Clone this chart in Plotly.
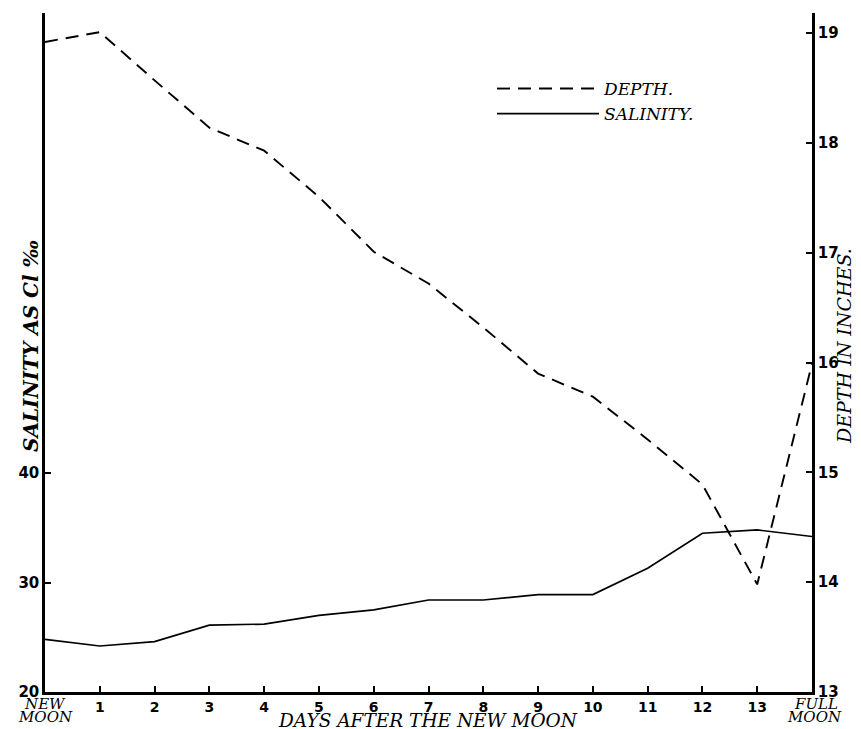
import plotly.graph_objects as go

days = list(range(15))
tick_labels = ["", "1", "2", "3", "4", "5", "6", "7", "8", "9", "10", "11", "12", "13", ""]
depth_in = [18.92, 19.01, 18.57, 18.14, 17.93, 17.51, 17.01, 16.72, 16.32, 15.90, 15.69, 15.30, 14.89, 13.98, 15.99]
salinity = [24.8, 24.2, 24.6, 26.1, 26.2, 27.0, 27.5, 28.4, 28.4, 28.9, 28.9, 31.3, 34.5, 34.8, 34.2]
sal_ticks = [20, 30, 40]
depth_ticks = [13, 14, 15, 16, 17, 18, 19]

# page body has an 8px margin, so the figure is drawn 8px smaller and offset
OFF = 8
W, H = 861 - OFF, 729 - OFF
ML, MR, MT, MB = 45 - OFF, 49, 13 - OFF, 37
plot_h = H - MT - MB
plot_w = W - ML - MR

serif = "DejaVu Serif"
sans = "DejaVu Sans"

fig = go.Figure()
fig.add_trace(go.Scatter(
    x=days, y=depth_in, name="DEPTH.", mode="lines", yaxis="y2",
    line=dict(color="black", width=1.9, dash="13px,8px"),
))
fig.add_trace(go.Scatter(
    x=days, y=salinity, name="SALINITY.", mode="lines", yaxis="y",
    line=dict(color="black", width=1.7),
))


def px_x(px):
    return (px - OFF - ML) / plot_w


def px_y(py):
    return (H - MB - (py - OFF)) / plot_h


fig.update_layout(
    width=W, height=H,
    margin=dict(l=ML, r=MR, t=MT, b=MB),
    paper_bgcolor="white", plot_bgcolor="white",
    showlegend=True,
    legend=dict(
        x=px_x(492), y=px_y(71), xanchor="left", yanchor="top",
        itemwidth=102, bgcolor="rgba(0,0,0,0)",
        font=dict(family=serif, size=17, color="black", style="italic"),
        tracegroupgap=2,
    ),
    xaxis=dict(
        range=[0, 14], tickvals=days, ticktext=tick_labels,
        showline=True, linecolor="black", linewidth=2.5,
        ticks="inside", ticklen=6, tickwidth=1.5, tickcolor="black",
        showgrid=False, zeroline=False,
        tickfont=dict(family=sans, size=14, color="black", weight="bold"),
    ),
    yaxis=dict(
        range=[20, 20 + plot_h / 10.95], tickvals=sal_ticks,
        showline=True, linecolor="black", linewidth=2.5,
        ticks="inside", ticklen=6, tickwidth=1.5, tickcolor="black",
        showgrid=False, zeroline=False,
        tickfont=dict(family=sans, size=15, color="black", weight="bold"),
    ),
    yaxis2=dict(
        range=[13, 13 + plot_h / 109.8], tickvals=depth_ticks,
        overlaying="y", side="right", anchor="x",
        showline=True, linecolor="black", linewidth=2.5,
        ticks="inside", ticklen=6, tickwidth=1.5, tickcolor="black",
        showgrid=False, zeroline=False,
        tickfont=dict(family=sans, size=15, color="black", weight="bold"),
    ),
)

anns = [
    dict(text="NEW", x=0, xref="x", y=px_y(704), yref="paper"),
    dict(text="MOON", x=0, xref="x", y=px_y(717), yref="paper"),
    dict(text="FULL", x=14, xref="x", y=px_y(704), yref="paper", xshift=4),
    dict(text="MOON", x=14, xref="x", y=px_y(717), yref="paper", xshift=2),
]
for a in anns:
    fig.add_annotation(**a, showarrow=False, xanchor="center", yanchor="middle",
                       font=dict(family=serif, size=15, color="black", style="italic"))

fig.add_annotation(text="DAYS AFTER THE NEW MOON", x=px_x(428), xref="paper",
                   y=px_y(720), yref="paper", showarrow=False,
                   xanchor="center", yanchor="middle",
                   font=dict(family=serif, size=18.5, color="black", style="italic"))
fig.add_annotation(text="SALINITY AS Cl ‰", x=px_x(31), xref="paper",
                   y=px_y(346), yref="paper", showarrow=False, textangle=-90,
                   xanchor="center", yanchor="middle",
                   font=dict(family=serif, size=20, color="black", style="italic", weight="bold"))
fig.add_annotation(text="DEPTH IN INCHES.", x=px_x(844), xref="paper",
                   y=px_y(346), yref="paper", showarrow=False, textangle=-90,
                   xanchor="center", yanchor="middle",
                   font=dict(family=serif, size=19, color="black", style="italic"))

fig.write_html("out.html")
